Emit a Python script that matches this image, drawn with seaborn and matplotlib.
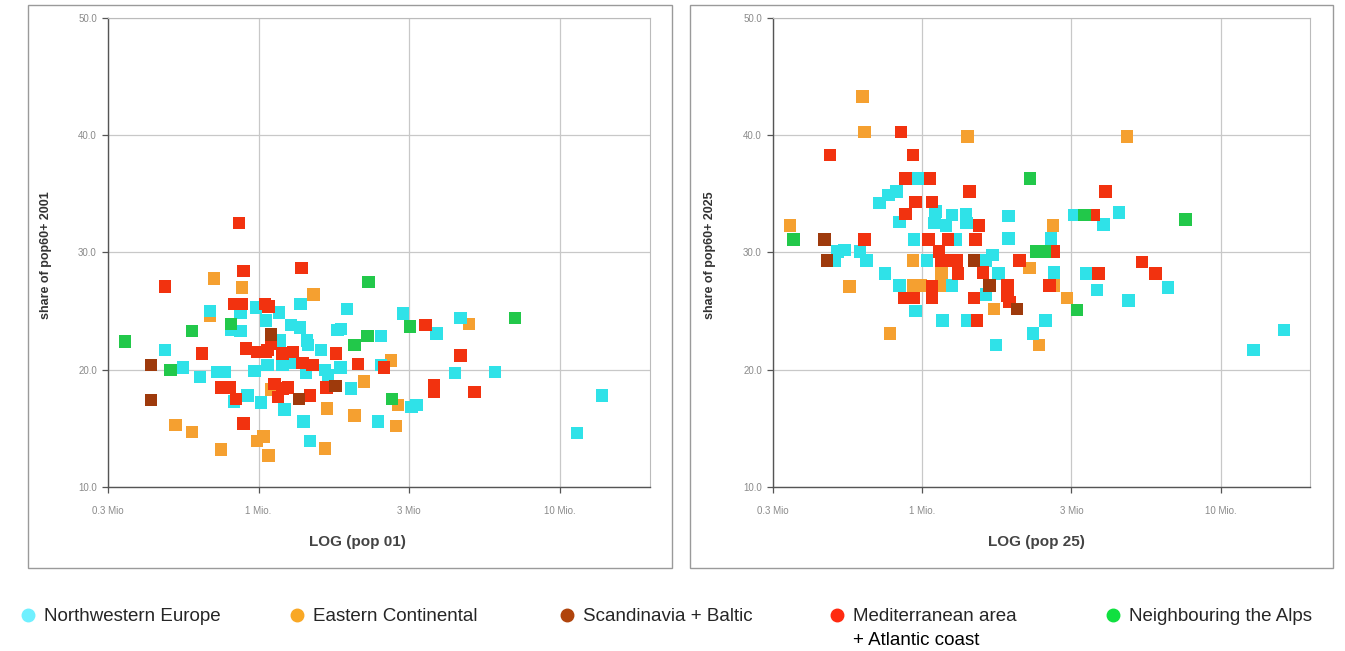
import matplotlib.pyplot as plt
import seaborn as sns
import pandas as pd
from matplotlib.lines import Line2D
from matplotlib.patches import Rectangle
from matplotlib.ticker import NullLocator

sns.set_style('white')
plt.rcParams['font.family'] = ['Liberation Sans', 'DejaVu Sans']

regions = ['Northwestern Europe', 'Eastern Continental', 'Scandinavia + Baltic',
           'Mediterranean area\n+ Atlantic coast', 'Neighbouring the Alps']
square_colors = ['#2fe2e8', '#f5a030', '#9e3a0c', '#f2320f', '#22c84a']
dot_colors = ['#6ff0ff', '#f9a825', '#b0440c', '#ff2a10', '#10e040']

# population in Mio (log axis) and share of population 60+ (%)
# 2001
nw01_pop = [0.69, 0.87, 0.98, 1.17, 1.38, 1.97, 1.06, 0.81, 0.87, 1.28, 1.37, 1.83, 1.88, 3.02,
            0.49, 1.18, 1.45, 1.46, 1.61, 2.55, 0.56, 0.64, 0.73, 0.77, 0.97, 1.07, 1.20, 1.27,
            1.44, 1.66, 1.70, 1.87, 2.55, 0.92, 1.02, 0.83, 2.03, 1.22, 3.22, 3.35, 2.49, 1.41,
            1.48, 3.90, 4.69, 4.49, 6.11, 13.8, 11.4]
nw01_share = [25.0, 24.9, 25.3, 24.9, 25.6, 25.2, 24.2, 23.4, 23.3, 23.8, 23.6, 23.4, 23.5, 24.8,
              21.7, 22.5, 22.5, 22.1, 21.7, 22.9, 20.2, 19.4, 19.8, 19.8, 19.9, 20.4, 20.4, 20.6,
              19.7, 20.0, 19.5, 20.2, 20.4, 17.8, 17.2, 17.3, 18.4, 16.6, 16.8, 17.0, 15.6, 15.6,
              13.9, 23.1, 24.4, 19.7, 19.8, 17.8, 14.6]
eco01_pop = [0.71, 0.88, 1.52, 0.69, 1.10, 2.24, 2.75, 1.69, 2.08, 2.91, 2.86, 0.53, 0.60, 1.04,
             0.99, 1.66, 0.75, 1.08, 5.0]
eco01_share = [27.8, 27.0, 26.4, 24.6, 18.3, 19.0, 20.8, 16.7, 16.1, 17.0, 15.2, 15.3, 14.7, 14.3,
               13.9, 13.3, 13.2, 12.7, 23.9]
sb01_pop = [0.44, 0.44, 1.10, 1.36, 1.80]
sb01_share = [20.4, 17.4, 23.0, 17.5, 18.6]
med01_pop = [0.86, 0.89, 1.39, 0.49, 0.83, 0.88, 1.05, 1.08, 0.65, 1.07, 1.10, 0.91, 0.99, 1.06,
             1.20, 1.30, 1.81, 1.40, 1.51, 2.14, 2.61, 0.75, 0.80, 0.84, 1.13, 1.20, 1.25, 1.16,
             1.48, 1.68, 0.89, 3.59, 4.69, 3.82, 3.82, 5.21]
med01_share = [32.5, 28.4, 28.7, 27.1, 25.6, 25.6, 25.6, 25.4, 21.4, 21.7, 22.2, 21.8, 21.5, 21.5,
               21.4, 21.5, 21.4, 20.6, 20.4, 20.5, 20.2, 18.5, 18.5, 17.5, 18.8, 18.4, 18.5, 17.7,
               17.8, 18.5, 15.4, 23.8, 21.2, 18.7, 18.1, 18.1]
alps01_pop = [2.32, 0.81, 0.60, 3.18, 0.36, 2.08, 2.30, 0.51, 2.78, 7.12]
alps01_share = [27.5, 23.9, 23.3, 23.7, 22.4, 22.1, 22.9, 20.0, 17.5, 24.4]

# 2025
nw25_pop = [0.97, 0.72, 0.77, 0.82, 0.84, 1.11, 1.10, 1.20, 1.26, 1.40, 1.41, 1.95, 1.95, 0.94,
            1.30, 2.70, 0.52, 0.55, 0.51, 0.62, 0.65, 1.04, 1.64, 1.72, 2.77, 0.75, 1.80, 0.84,
            1.26, 1.64, 0.95, 1.17, 1.42, 2.59, 2.35, 1.77, 3.24, 4.56, 4.06, 3.54, 6.66, 3.86,
            4.92, 16.3, 12.9]
nw25_share = [36.3, 34.2, 34.9, 35.2, 32.6, 33.5, 32.5, 32.3, 33.2, 33.3, 32.5, 33.1, 31.2, 31.1,
              31.1, 31.2, 30.1, 30.2, 29.3, 30.1, 29.3, 29.3, 29.3, 29.8, 28.3, 28.2, 28.2, 27.2,
              27.2, 26.4, 25.0, 24.2, 24.2, 24.2, 23.1, 22.1, 33.2, 33.4, 32.4, 28.2, 27.0, 26.8,
              25.9, 23.4, 21.7]
eco25_pop = [0.63, 0.64, 1.42, 0.36, 2.74, 4.86, 0.93, 2.29, 1.16, 0.57, 0.93, 0.99, 1.16, 1.74,
             0.78, 2.46, 3.06, 2.77]
eco25_share = [43.3, 40.3, 39.9, 32.3, 32.3, 39.9, 29.3, 28.7, 28.3, 27.1, 27.2, 27.2, 27.2, 25.2,
               23.1, 22.1, 26.1, 27.2]
sb25_pop = [0.47, 0.48, 1.49, 1.68, 2.08]
sb25_share = [31.1, 29.3, 29.3, 27.2, 25.2]
med25_pop = [0.85, 0.49, 0.93, 0.88, 1.06, 1.44, 0.95, 1.08, 0.88, 1.55, 0.64, 1.05, 1.22, 1.51,
             2.77, 1.14, 1.16, 1.23, 1.31, 2.12, 1.32, 1.60, 1.08, 1.93, 1.93, 0.87, 0.94, 1.08,
             1.49, 2.67, 1.53, 3.76, 4.11, 3.90, 5.46, 6.05, 1.96]
med25_share = [40.3, 38.3, 38.3, 36.3, 36.3, 35.2, 34.3, 34.3, 33.3, 32.3, 31.1, 31.1, 31.1, 31.1,
               30.1, 30.1, 29.3, 29.3, 29.3, 29.3, 28.2, 28.3, 27.1, 27.2, 26.3, 26.1, 26.1, 26.1,
               26.1, 27.2, 24.2, 33.2, 35.2, 28.2, 29.2, 28.2, 25.8]
alps25_pop = [0.37, 2.30, 2.41, 2.57, 3.50, 7.63, 3.30]
alps25_share = [31.1, 36.3, 30.1, 30.1, 33.2, 32.8, 25.1]

xticks = [10 ** -0.5, 1, 10 ** 0.5, 10]
xticklabels = ['0.3 Mio', '1 Mio.', '3 Mio', '10 Mio.']
yticks = [10, 20, 30, 40, 50]


def make_df(groups):
    # draw order: orange, cyan, red, brown, green
    order = [1, 0, 3, 2, 4]
    parts = []
    for i in order:
        pops, shares = groups[i]
        parts.append(pd.DataFrame({'pop': pops, 'share': shares, 'region': regions[i]}))
    return pd.concat(parts, ignore_index=True)


df01 = make_df([(nw01_pop, nw01_share), (eco01_pop, eco01_share), (sb01_pop, sb01_share),
                (med01_pop, med01_share), (alps01_pop, alps01_share)])
df25 = make_df([(nw25_pop, nw25_share), (eco25_pop, eco25_share), (sb25_pop, sb25_share),
                (med25_pop, med25_share), (alps25_pop, alps25_share)])

W, H = 1345, 651
fig = plt.figure(figsize=(W / 100, H / 100), dpi=100)
ax1 = fig.add_axes([108 / W, 1 - 487 / H, 542 / W, 469 / H])
ax2 = fig.add_axes([773 / W, 1 - 487 / H, 537 / W, 469 / H])

palette = dict(zip(regions, square_colors))

panels = [(ax1, df01, 'LOG (pop 01)', 'share of pop60+ 2001', 0.461, -0.103),
          (ax2, df25, 'LOG (pop 25)', 'share of pop60+ 2025', 0.49, -0.106)]
for ax, df, xlab, ylab, xl_x, yl_x in panels:
    sns.scatterplot(data=df, x='pop', y='share', hue='region', palette=palette,
                    marker='s', s=80, linewidth=0, legend=False, ax=ax, zorder=3)
    ax.set_xscale('log')
    ax.set_xlim(10 ** -0.5, 10 ** 1.3)
    ax.set_ylim(10, 50)
    ax.set_xticks(xticks)
    ax.set_xticklabels(xticklabels)
    ax.xaxis.set_minor_locator(NullLocator())
    ax.set_yticks(yticks)
    ax.set_yticklabels([f'{v:.1f}' for v in yticks])
    ax.grid(True, color='#c8c8c8', lw=0.9)
    ax.set_axisbelow(True)
    ax.tick_params(direction='out', length=4, width=0.9, color='#555555',
                   labelsize=7, labelcolor='#8a8a8a', pad=4, left=True, bottom=True)
    ax.tick_params(axis='x', pad=10)
    for side in ['left', 'bottom']:
        ax.spines[side].set_color('#555555')
        ax.spines[side].set_linewidth(1.0)
    for side in ['top', 'right']:
        ax.spines[side].set_color('#bbbbbb')
        ax.spines[side].set_linewidth(0.8)
    ax.set_xlabel(xlab, fontsize=11, fontweight='bold', color='#444444')
    ax.set_ylabel(ylab, fontsize=9, fontweight='bold', color='#333333')
    ax.xaxis.set_label_coords(xl_x, -0.102)
    ax.yaxis.set_label_coords(yl_x, 0.495)

# panel frames
for x0, x1 in [(28, 672), (690, 1333)]:
    fig.patches.append(Rectangle((x0 / W, 1 - 568 / H), (x1 - x0) / W, 563 / H,
                                 transform=fig.transFigure, fill=False,
                                 ec='#9a9a9a', lw=1.0))

# legend: one entry per block, second line of the red label below the first
starts = [22, 291, 561, 831, 1107]
for name, col, x0 in zip(regions, dot_colors, starts):
    first, *rest = name.split('\n')
    h = Line2D([], [], ls='none', marker='o', ms=9, mfc=col, mec=col)
    leg = fig.legend([h], [first], loc='upper left', bbox_to_anchor=(x0 / W, 1 - 608 / H),
                     frameon=False, fontsize=13.5, handlelength=0.6, handletextpad=0.56,
                     borderpad=0, borderaxespad=0)
    for line in rest:
        fig.canvas.draw()
        tb = leg.get_texts()[0].get_window_extent()
        fig.text(tb.x0 / W, (tb.y0 - 24) / H, line, fontsize=13.5, color='black',
                 ha='left', va='bottom')

fig.savefig('out.png', dpi=100)
